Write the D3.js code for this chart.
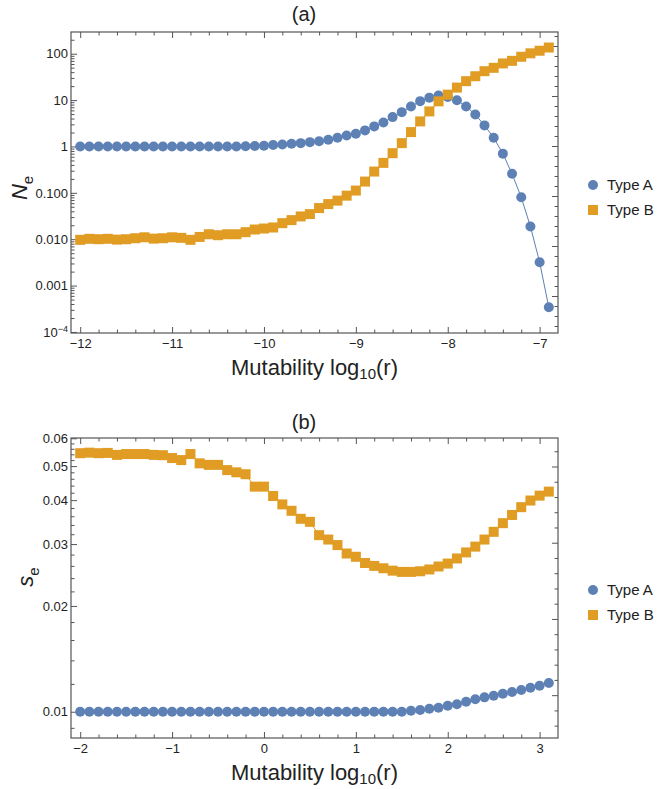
<!DOCTYPE html>
<html>
<head>
<meta charset="utf-8">
<script src="https://cdnjs.cloudflare.com/ajax/libs/d3/7.8.5/d3.min.js"></script>
<style>
body { margin: 0; background: #fff; }
svg text { font-family: "Liberation Sans", Arial, sans-serif; }
</style>
</head>
<body>
<div id="chart"></div>
<script>
///data (a): mutability log10(r) and N_e
const xA = [-12, -11.9, -11.8, -11.7, -11.6, -11.5, -11.4, -11.3, -11.2, -11.1,
  -11, -10.9, -10.8, -10.7, -10.6, -10.5, -10.4, -10.3, -10.2, -10.1,
  -10, -9.9, -9.8, -9.7, -9.6, -9.5, -9.4, -9.3, -9.2, -9.1,
  -9, -8.9, -8.8, -8.7, -8.6, -8.5, -8.4, -8.3, -8.2, -8.1,
  -8, -7.9, -7.8, -7.7, -7.6, -7.5, -7.4, -7.3, -7.2, -7.1,
  -7, -6.9];
const neA = [1, 1, 1, 1, 1, 1, 1, 1, 1, 1,
  1, 1, 1, 1, 1, 1, 1, 1, 1.01, 1.02,
  1.04, 1.08, 1.1, 1.14, 1.18, 1.24, 1.3, 1.4, 1.54, 1.73,
  1.88, 2.22, 2.71, 3.3, 4.3, 5.5, 7.3, 9.5, 11.3, 12.5,
  11.7, 9.9, 7.3, 4.9, 2.85, 1.54, 0.7, 0.257, 0.08, 0.0188,
  0.0032, 0.00034];
const neB = [0.0097, 0.0102, 0.01, 0.0102, 0.0098, 0.01, 0.0105, 0.011, 0.0103, 0.0105,
  0.011, 0.0107, 0.0097, 0.0112, 0.0128, 0.0122, 0.0128, 0.0128, 0.0142, 0.0162,
  0.017, 0.0179, 0.0222, 0.0258, 0.031, 0.0348, 0.0469, 0.0572, 0.068, 0.087,
  0.112, 0.175, 0.288, 0.443, 0.716, 1.18, 2.04, 3.47, 5.7, 9.4,
  13.1, 18.6, 25.6, 32.7, 42, 49.6, 61.7, 70.2, 86, 102,
  116, 136];

///data (b): mutability log10(r) and s_e
const xB = [-2, -1.9, -1.8, -1.7, -1.6, -1.5, -1.4, -1.3, -1.2, -1.1,
  -1, -0.9, -0.8, -0.7, -0.6, -0.5, -0.4, -0.3, -0.2, -0.1,
  0, 0.1, 0.2, 0.3, 0.4, 0.5, 0.6, 0.7, 0.8, 0.9,
  1, 1.1, 1.2, 1.3, 1.4, 1.5, 1.6, 1.7, 1.8, 1.9,
  2, 2.1, 2.2, 2.3, 2.4, 2.5, 2.6, 2.7, 2.8, 2.9,
  3, 3.1];
const seA = [0.01, 0.01, 0.01, 0.01, 0.01, 0.01, 0.01, 0.01, 0.01, 0.01,
  0.01, 0.01, 0.01, 0.01, 0.01, 0.01, 0.01, 0.01, 0.01, 0.01,
  0.01, 0.01, 0.01, 0.01, 0.01, 0.01, 0.01, 0.01, 0.01, 0.01,
  0.01, 0.01, 0.01, 0.01, 0.01, 0.01, 0.01007, 0.01011, 0.0102, 0.01027,
  0.0104, 0.0105, 0.01068, 0.01085, 0.01099, 0.0111, 0.01125, 0.01138, 0.01153, 0.0117,
  0.01186, 0.01207];
const seB = [0.0544, 0.0546, 0.0544, 0.0545, 0.0538, 0.0541, 0.0541, 0.0541, 0.0538, 0.0537,
  0.0527, 0.052, 0.0541, 0.0509, 0.0504, 0.0504, 0.0487, 0.048, 0.0474, 0.0437,
  0.0437, 0.0411, 0.0389, 0.0373, 0.0354, 0.0347, 0.0318, 0.0309, 0.0298, 0.0282,
  0.0276, 0.0265, 0.026, 0.0256, 0.0252, 0.025, 0.025, 0.0251, 0.0254, 0.0259,
  0.0264, 0.0273, 0.0284, 0.0295, 0.0309, 0.0325, 0.0344, 0.0363, 0.0382, 0.0399,
  0.0412, 0.0423];

///ticks and labels
const neTicks = [1e-4, 1e-3, 1e-2, 1e-1, 1, 10, 100];
const neTickLabels = ["10^\u22124", "0.001", "0.010", "0.100", "1", "10", "100"];
const seTicks = [0.01, 0.02, 0.03, 0.04, 0.05, 0.06];
const seTickLabels = ["0.01", "0.02", "0.03", "0.04", "0.05", "0.06"];
const xTicksA = [-12, -11, -10, -9, -8, -7];
const xTicksB = [-2, -1, 0, 1, 2, 3];
const seriesNames = ["Type A", "Type B"];
const colors = ["#5e81b5", "#e19c24"];

///vars
let w = 659,
  h = 789,
  left = 71,
  right = 558;
const frameColor = "#555",
  textColor = "#222";

let svg = d3.select("#chart").append("svg")
  .attr("width", w)
  .attr("height", h);

// minor ticks on the log axes
let neMinor = [];
[-4, -3, -2, -1, 0, 1, 2].forEach(p => {
  d3.range(2, 10).forEach(k => {
    const v = k * Math.pow(10, p);
    if (v < 290) neMinor.push(v);
  });
});
let seMinor = [0.009].concat(d3.range(12, 60, 2).filter(v => v % 10).map(v => v / 1000));

function styleAxis(a) {
  a.attr("font-family", null).attr("font-size", 13).attr("color", frameColor);
  a.select(".domain").remove();
  a.selectAll("text").attr("fill", textColor);
}

function panel(o) {
  const g = svg.append("g");
  const x = d3.scaleLinear().domain(o.xDomain).range([left, right]);
  const y = d3.scaleLog().domain(o.yDomain).range([o.bottom, o.top]);
  // right frame has plain evenly spaced ticks
  const r = d3.scaleLinear().domain(o.rDomain).range([o.bottom, o.top]);

  const xMinor = d3.range(o.xTicks[0] * 5, o.xTicks[o.xTicks.length - 1] * 5 + 1)
    .map(v => v / 5).filter(v => !o.xTicks.includes(v));
  const rAll = d3.range(Math.ceil(o.rDomain[0]), Math.floor(o.rDomain[1]) + 1);

  // bottom
  g.append("g").attr("transform", `translate(0,${o.bottom})`)
    .call(d3.axisBottom(x).tickValues(xMinor).tickSize(-3.5).tickFormat(""))
    .call(styleAxis);
  g.append("g").attr("transform", `translate(0,${o.bottom})`)
    .call(d3.axisBottom(x).tickValues(o.xTicks).tickSize(-6).tickPadding(6)
      .tickFormat(d => (d < 0 ? "\u2212" + (-d) : d)))
    .call(styleAxis);
  // top
  g.append("g").attr("transform", `translate(0,${o.top})`)
    .call(d3.axisTop(x).tickValues(xMinor).tickSize(-3.5).tickFormat(""))
    .call(styleAxis);
  g.append("g").attr("transform", `translate(0,${o.top})`)
    .call(d3.axisTop(x).tickValues(o.xTicks).tickSize(-6).tickFormat(""))
    .call(styleAxis);
  // left
  g.append("g").attr("transform", `translate(${left},0)`)
    .call(d3.axisLeft(y).tickValues(o.yMinor).tickSize(-3.5).tickFormat(""))
    .call(styleAxis);
  let ya = g.append("g").attr("transform", `translate(${left},0)`)
    .call(d3.axisLeft(y).tickValues(o.yTicks).tickSize(-6).tickPadding(3)
      .tickFormat((d, i) => o.yLabels[i]))
    .call(styleAxis);
  ya.selectAll("text").each(function (d, i) {
    const lab = o.yLabels[i];
    if (lab.includes("^")) {
      const t = d3.select(this).text(null);
      const parts = lab.split("^");
      t.append("tspan").text(parts[0]);
      t.append("tspan").attr("font-size", 9).attr("dy", -5).text(parts[1]);
    }
  });
  // right
  g.append("g").attr("transform", `translate(${right},0)`)
    .call(d3.axisRight(r).tickValues(rAll.filter(v => v % 5)).tickSize(-3.5).tickFormat(""))
    .call(styleAxis);
  g.append("g").attr("transform", `translate(${right},0)`)
    .call(d3.axisRight(r).tickValues(rAll.filter(v => v % 5 === 0)).tickSize(-6).tickFormat(""))
    .call(styleAxis);

  // frame
  g.append("rect")
    .attr("x", left).attr("y", o.top)
    .attr("width", right - left).attr("height", o.bottom - o.top)
    .attr("fill", "none").attr("stroke", frameColor).attr("stroke-width", 1.2);

  // series
  const line = d3.line().x(d => x(d[0])).y(d => y(d[1]));
  const dataA = d3.zip(o.xs, o.a);
  const dataB = d3.zip(o.xs, o.b);
  g.append("path").datum(dataA).attr("d", line)
    .attr("fill", "none").attr("stroke", colors[0]).attr("stroke-width", 1);
  g.append("g").selectAll("circle").data(dataA).join("circle")
    .attr("cx", d => x(d[0])).attr("cy", d => y(d[1])).attr("r", 5)
    .attr("fill", colors[0]);
  g.append("path").datum(dataB).attr("d", line)
    .attr("fill", "none").attr("stroke", colors[1]).attr("stroke-width", 1);
  g.append("g").selectAll("rect").data(dataB).join("rect")
    .attr("x", d => x(d[0]) - 5).attr("y", d => y(d[1]) - 5)
    .attr("width", 10).attr("height", 10)
    .attr("fill", colors[1]);

  // title
  g.append("text").attr("x", 304).attr("y", o.titleY)
    .attr("text-anchor", "middle").attr("font-size", 20).attr("fill", textColor)
    .text(o.title);

  // x label
  let xl = g.append("text").attr("x", (left + right) / 2).attr("y", o.bottom + 42)
    .attr("text-anchor", "middle").attr("font-size", 22).attr("fill", textColor);
  xl.append("tspan").text("Mutability log");
  xl.append("tspan").attr("font-size", 15).attr("dy", 4).text("10");
  xl.append("tspan").attr("dy", -4).text("(r)");

  // y label
  let yl = g.append("text")
    .attr("transform", `translate(${o.yLabelX},${o.yLabelY}) rotate(-90)`)
    .attr("text-anchor", "middle").attr("font-size", 22).attr("fill", textColor);
  yl.append("tspan").attr("font-style", "italic").text(o.yName[0]);
  yl.append("tspan").attr("font-size", 15).attr("dy", 6).text(o.yName[1]);

  // legend
  let lg = g.append("g").attr("transform", `translate(593,${o.legendY})`);
  lg.append("circle").attr("cx", 0).attr("cy", 0).attr("r", 5).attr("fill", colors[0]);
  lg.append("rect").attr("x", -5).attr("y", 20).attr("width", 10).attr("height", 10).attr("fill", colors[1]);
  lg.selectAll("text").data(seriesNames).join("text")
    .attr("x", 14).attr("y", (d, i) => i * 25 + 5)
    .attr("font-size", 15).attr("fill", textColor)
    .text(d => d);
}

panel({
  xs: xA, a: neA, b: neB,
  xDomain: [-12.1, -6.8], yDomain: [9.5e-5, 294], rDomain: [-18.7, 11.4],
  top: 32, bottom: 333,
  xTicks: xTicksA, yTicks: neTicks, yLabels: neTickLabels, yMinor: neMinor,
  title: "(a)", titleY: 21, yName: ["N", "e"], yLabelX: 27, yLabelY: 188,
  legendY: 185
});

panel({
  xs: xB, a: seA, b: seB,
  xDomain: [-2.1, 3.2], yDomain: [0.00842, 0.0601], rDomain: [-2.81, 16.87],
  top: 438, bottom: 738,
  xTicks: xTicksB, yTicks: seTicks, yLabels: seTickLabels, yMinor: seMinor,
  title: "(b)", titleY: 429, yName: ["s", "e"], yLabelX: 33, yLabelY: 577,
  legendY: 590
});
</script>
</body>
</html>
